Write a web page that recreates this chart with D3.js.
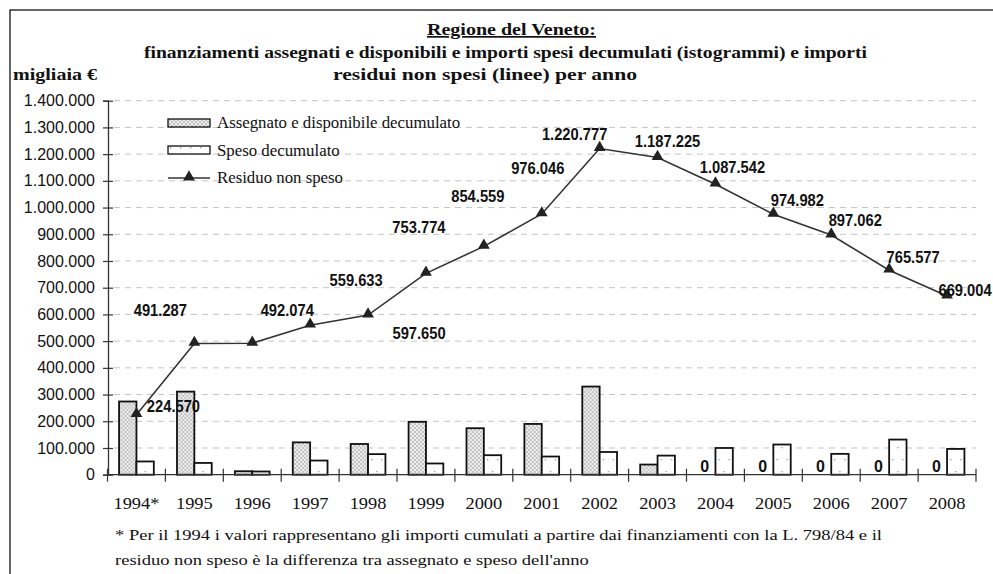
<!DOCTYPE html>
<html>
<head>
<meta charset="utf-8">
<script src="https://cdn.jsdelivr.net/npm/d3@7/dist/d3.min.js"></script>
<style>
body { margin: 0; background: #fff; }
svg { display: block; }
.serif { font-family: "Liberation Serif", "Times New Roman", serif; }
.sans { font-family: "Liberation Sans", Arial, sans-serif; }
</style>
</head>
<body>
<svg id="chart" width="993" height="574"></svg>
<script>
// values in migliaia di euro
var years = ['1994*', '1995', '1996', '1997', '1998', '1999', '2000', '2001',
    '2002', '2003', '2004', '2005', '2006', '2007', '2008'];
var assegnato = [274000, 311000, 13000, 121000, 115000, 198000, 174000, 190000,
    330000, 38000, 0, 0, 0, 0, 0];
var speso = [49500, 44000, 12000, 53000, 77000, 42000, 73000, 68000,
    85000, 71500, 100000, 113000, 78000, 131500, 96500];
var residuo = [224570, 491287, 492074, 559633, 597650, 753774, 854559, 976046,
    1220777, 1187225, 1087542, 974982, 897062, 765577, 669004];
var yTicks = d3.range(0, 1400001, 100000);

// where each line label sits relative to its point (dx to centre, dy to baseline)
var labelDx = [37, -34, 35, 46, 51, -7, -6, -4, -25, 10, 17, 24, 24, 24, 18];
var labelDy = [-3, -27, -27, -39, 24, -40, -44, -40, -9, -11, -11, -8, -9, -7, 0];

var it = d3.formatLocale({decimal: ',', thousands: '.', grouping: [3], currency: ['', '€']});
var fmt = it.format(',d');

// the serif text in the original is drawn wider than Times
function stretch(sel, k) {
    sel.each(function() {
        var w = this.getComputedTextLength();
        d3.select(this).attr('textLength', w * k).attr('lengthAdjust', 'spacingAndGlyphs');
    });
}

var svg = d3.select('#chart');
var defs = svg.append('defs');

// crosshatch for the assigned bars
var hatch = defs.append('pattern')
    .attr('id', 'hatch')
    .attr('patternUnits', 'userSpaceOnUse')
    .attr('width', 4).attr('height', 4);
hatch.append('rect').attr('width', 4).attr('height', 4).attr('fill', '#c2c2c2');
hatch.append('path').attr('d', 'M0 0 L4 4 M4 0 L0 4').attr('stroke', '#f4f4f4').attr('stroke-width', 0.9);

// sparse dots for the spent bars
var dots = defs.append('pattern')
    .attr('id', 'dots')
    .attr('patternUnits', 'userSpaceOnUse')
    .attr('width', 10).attr('height', 24);
dots.append('rect').attr('width', 10).attr('height', 24).attr('fill', '#fff');
dots.append('rect').attr('x', 2).attr('y', 3).attr('width', 1.3).attr('height', 1.3).attr('fill', '#999');
dots.append('rect').attr('x', 7).attr('y', 15).attr('width', 1.3).attr('height', 1.3).attr('fill', '#999');

// frame (only top and left visible in the crop)
svg.append('path')
    .attr('d', 'M10 574 L10 10 L993 10')
    .attr('fill', 'none')
    .attr('stroke', '#333')
    .attr('stroke-width', 1.5);

var x = d3.scaleBand().domain(years).range([107.5, 976]);
var bw = x.bandwidth();
var x1 = d3.scaleBand().domain(['a', 's']).range([bw * 0.2, bw * 0.8]);
var y = d3.scaleLinear().domain([0, 1400000]).range([474.7, 100.7]);

// gridlines
svg.append('g').selectAll('line')
    .data(yTicks.slice(1))
    .join('line')
    .attr('x1', 114).attr('x2', 976)
    .attr('y1', function(d) { return y(d); })
    .attr('y2', function(d) { return y(d); })
    .attr('stroke', '#c4c4c4')
    .attr('stroke-width', 1)
    .attr('stroke-dasharray', '6,5');

// y axis
var yAxis = svg.append('g')
    .attr('transform', 'translate(108,0)')
    .call(d3.axisLeft(y).tickValues(yTicks).tickFormat(fmt).tickSize(5).tickPadding(9));
yAxis.select('.domain').attr('stroke', '#333').attr('stroke-width', 1.3);
yAxis.selectAll('.tick line').attr('stroke', '#333').attr('x2', 5).attr('x1', -5).attr('stroke-width', 1.2);
yAxis.selectAll('.tick text')
    .attr('x', -13)
    .attr('class', 'sans')
    .style('font-size', '16px')
    .attr('fill', '#111');

// bars
var groups = svg.append('g').selectAll('g')
    .data(years)
    .join('g')
    .attr('transform', function(d) { return 'translate(' + x(d) + ',0)'; });

groups.append('rect')
    .attr('x', x1('a'))
    .attr('width', x1.bandwidth())
    .attr('y', function(d, i) { return y(assegnato[i]); })
    .attr('height', function(d, i) { return y(0) - y(assegnato[i]); })
    .attr('fill', 'url(#hatch)')
    .attr('stroke', function(d, i) { return assegnato[i] > 0 ? '#111' : 'none'; })
    .attr('stroke-width', 1.8);

groups.append('rect')
    .attr('x', x1('s'))
    .attr('width', x1.bandwidth())
    .attr('y', function(d, i) { return y(speso[i]); })
    .attr('height', function(d, i) { return y(0) - y(speso[i]); })
    .attr('fill', 'url(#dots)')
    .attr('stroke', '#111')
    .attr('stroke-width', 1.8);

// "0" labels on empty assigned bars
groups.filter(function(d, i) { return assegnato[i] === 0; })
    .append('text')
    .attr('class', 'sans')
    .attr('x', x1('a') + x1.bandwidth() / 2 - 2)
    .attr('y', y(0) - 3)
    .attr('text-anchor', 'middle')
    .style('font-size', '16px')
    .style('font-weight', 'bold')
    .attr('fill', '#111')
    .text('0');

// x axis
var xAxis = svg.append('g');
xAxis.append('line')
    .attr('x1', 108).attr('x2', 976)
    .attr('y1', y(0)).attr('y2', y(0))
    .attr('stroke', '#333').attr('stroke-width', 1.3);
xAxis.selectAll('.xtick')
    .data(years.concat(['end']))
    .join('line')
    .attr('class', 'xtick')
    .attr('x1', function(d) { return d === 'end' ? 976 : x(d); })
    .attr('x2', function(d) { return d === 'end' ? 976 : x(d); })
    .attr('y1', y(0) - 6).attr('y2', y(0) + 7)
    .attr('stroke', '#333').attr('stroke-width', 1.2);
xAxis.selectAll('.xlab')
    .data(years)
    .join('text')
    .attr('class', 'xlab serif')
    .attr('x', function(d) { return x(d) + bw / 2; })
    .attr('y', 509)
    .attr('text-anchor', 'middle')
    .style('font-size', '16px')
    .attr('fill', '#111')
    .text(function(d) { return d; })
    .call(stretch, 1.15);

// residual line
var line = d3.line()
    .x(function(d, i) { return x(years[i]) + bw / 2; })
    .y(function(d) { return y(d); });

svg.append('path')
    .datum(residuo)
    .attr('d', line)
    .attr('fill', 'none')
    .attr('stroke', '#333')
    .attr('stroke-width', 1.6);

var tri = d3.symbol().type(d3.symbolTriangle).size(60);
svg.append('g').selectAll('path')
    .data(residuo)
    .join('path')
    .attr('d', tri)
    .attr('transform', function(d, i) {
        return 'translate(' + (x(years[i]) + bw / 2) + ',' + (y(d) - 1) + ')';
    })
    .attr('fill', '#222');

svg.append('g').selectAll('text')
    .data(residuo)
    .join('text')
    .attr('class', 'sans')
    .attr('text-anchor', 'middle')
    .attr('transform', function(d, i) {
        var px = x(years[i]) + bw / 2 + labelDx[i];
        var py = y(d) + labelDy[i];
        return 'translate(' + px + ',' + py + ') scale(0.92,1)';
    })
    .style('font-size', '16px')
    .style('font-weight', 'bold')
    .attr('fill', '#111')
    .text(function(d) { return fmt(d); });

// titles
var title = svg.append('g').attr('class', 'serif').attr('fill', '#111')
    .style('font-weight', 'bold').style('font-size', '17px');
title.append('text')
    .attr('x', 511.5).attr('y', 35)
    .attr('text-anchor', 'middle')
    .style('text-decoration', 'underline')
    .attr('textLength', 169).attr('lengthAdjust', 'spacingAndGlyphs')
    .text('Regione del Veneto:');
title.append('text')
    .attr('x', 505.5).attr('y', 58)
    .attr('text-anchor', 'middle')
    .attr('textLength', 723).attr('lengthAdjust', 'spacingAndGlyphs')
    .text('finanziamenti assegnati e disponibili e importi spesi decumulati (istogrammi) e importi');
title.append('text')
    .attr('x', 485).attr('y', 80)
    .attr('text-anchor', 'middle')
    .attr('textLength', 304).attr('lengthAdjust', 'spacingAndGlyphs')
    .text('residui non spesi (linee) per anno');
title.append('text')
    .attr('x', 13).attr('y', 80)
    .attr('textLength', 84).attr('lengthAdjust', 'spacingAndGlyphs')
    .text('migliaia €');

// legend
var legend = svg.append('g').attr('transform', 'translate(168,0)');
legend.append('rect')
    .attr('x', 0).attr('y', 119).attr('width', 42).attr('height', 8)
    .attr('fill', 'url(#hatch)').attr('stroke', '#111').attr('stroke-width', 1.3);
legend.append('rect')
    .attr('x', 0).attr('y', 146).attr('width', 42).attr('height', 8)
    .attr('fill', 'url(#dots)').attr('stroke', '#111').attr('stroke-width', 1.3);
legend.append('line')
    .attr('x1', 0).attr('x2', 42).attr('y1', 178).attr('y2', 178)
    .attr('stroke', '#333').attr('stroke-width', 1.6);
legend.append('path')
    .attr('d', tri)
    .attr('transform', 'translate(21,177)')
    .attr('fill', '#222');
var legendLabels = ['Assegnato e disponibile decumulato', 'Speso decumulato', 'Residuo non speso'];
legend.selectAll('.ltext')
    .data(legendLabels)
    .join('text')
    .attr('class', 'ltext serif')
    .attr('x', 49)
    .attr('y', function(d, i) { return 128 + i * 27.5; })
    .style('font-size', '16px')
    .attr('fill', '#111')
    .text(function(d) { return d; })
    .call(stretch, 1.05);

// footnote
var notes = ['* Per il 1994 i valori rappresentano gli importi cumulati a partire dai finanziamenti con la L. 798/84 e il',
    'residuo non speso è la differenza tra assegnato e speso dell\'anno'];
var noteText = svg.append('g').selectAll('text')
    .data(notes)
    .join('text')
    .attr('class', 'serif')
    .attr('x', 115)
    .attr('y', function(d, i) { return 540 + i * 25; })
    .style('font-size', '15px')
    .attr('fill', '#111')
    .text(function(d) { return d; });
// first line runs to about x=882 in the original
var noteK = 767 / noteText.node().getComputedTextLength();
noteText.call(stretch, noteK);
</script>
</body>
</html>
